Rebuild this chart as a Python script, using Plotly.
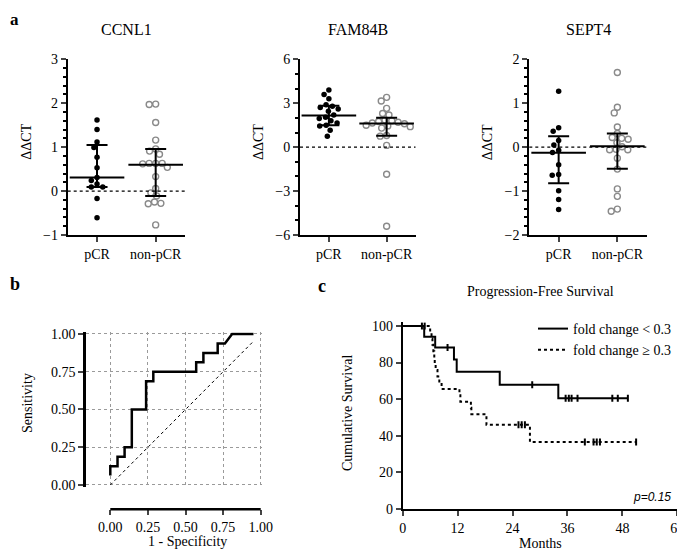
import numpy as np
import plotly.graph_objects as go

# page is 685x551; the html body keeps an 8px margin, so the figure is 8px smaller each way
PAGE_W, PAGE_H, OFF = 685, 551, 8
W, H = PAGE_W - OFF, PAGE_H - OFF

# ---------------- data ----------------
genes = ["CCNL1", "FAM84B", "SEPT4"]
groups = ["pCR", "non-pCR"]

ccnl1_pcr = [1.62, 1.40, 1.12, 0.99, 0.77, 0.53, 0.31, 0.24, 0.16, 0.09, 0.09, -0.17, -0.61]
ccnl1_non = [1.98, 1.97, 1.56, 1.16, 0.96, 0.91, 0.84, 0.63, 0.63, 0.63, 0.62, 0.54, 0.33,
             0.06, -0.04, -0.11, -0.25, -0.28, -0.29, -0.77]
fam84b_pcr = [3.9, 3.6, 3.3, 2.9, 2.8, 2.7, 2.6, 2.45, 2.2, 2.05, 1.95, 1.8, 1.65, 1.5,
              1.45, 1.15, 0.75]
fam84b_non = [3.4, 3.15, 2.65, 2.3, 2.2, 1.85, 1.8, 1.75, 1.7, 1.65, 1.6, 1.5, 1.45, 1.4,
              1.3, 0.8, 0.75, 0.12, -1.85, -5.4]
sept4_pcr = [1.27, 0.44, 0.36, 0.15, 0.05, -0.07, -0.12, -0.40, -0.62, -0.64, -0.99, -1.19, -1.42]
sept4_non = [1.70, 0.91, 0.78, 0.46, 0.31, 0.22, 0.20, 0.18, 0.10, 0.01, -0.05, -0.06, -0.06,
             -0.25, -0.50, -0.95, -1.12, -1.41, -1.46]

# median / interquartile range  [pCR, non-pCR]
ccnl1_med, ccnl1_q1, ccnl1_q3 = [0.31, 0.60], [0.09, -0.11], [1.05, 0.96]
fam84b_med, fam84b_q1, fam84b_q3 = [2.17, 1.62], [1.50, 0.78], [2.82, 2.00]
sept4_med, sept4_q1, sept4_q3 = [-0.13, 0.02], [-0.82, -0.49], [0.25, 0.31]

y_ranges = [[-1, 3], [-6, 6], [-2, 2]]
y_dticks = [1, 3, 1]
y_minor = [0.2, 1, 0.2]

# ROC
roc_fpr = [0, 0, 0.048, 0.048, 0.095, 0.095, 0.143, 0.143, 0.238, 0.238, 0.286, 0.286,
           0.571, 0.571, 0.619, 0.619, 0.714, 0.714, 0.762, 0.810, 0.952]
roc_tpr = [0.0625, 0.125, 0.125, 0.1875, 0.1875, 0.25, 0.25, 0.5, 0.5, 0.6875, 0.6875, 0.75,
           0.75, 0.8125, 0.8125, 0.875, 0.875, 0.9375, 0.9375, 1.0, 1.0]
roc_diag = [0, 0.952]
roc_ticks = [0, 0.25, 0.5, 0.75, 1.0]

# Kaplan-Meier, progression-free survival
low_t = [0, 4.7, 7.1, 11.2, 11.8, 21.2, 34.0, 49.2]
low_s = [100, 94.1, 88.2, 81.6, 75.0, 67.9, 60.4, 60.4]
low_cens_t = [4.2, 9.8, 28.3, 35.6, 36.3, 36.9, 38.2, 45.8, 47.0, 49.2]
low_cens_s = [100, 88.2, 67.9, 60.4, 60.4, 60.4, 60.4, 60.4, 60.4, 60.4]
high_t = [0, 6.0, 6.3, 6.5, 6.7, 6.9, 7.0, 7.2, 7.6, 8.0, 8.5, 12.4, 12.6, 14.9, 15.0,
          18.3, 27.8, 51.0]
high_s = [100, 96.6, 93.1, 89.7, 86.2, 82.8, 79.3, 75.9, 72.4, 69.0, 65.5, 62.1, 58.6,
          55.2, 51.7, 45.9, 36.5, 36.5]
high_cens_t = [4.8, 25.3, 26.0, 26.7, 39.8, 41.7, 42.4, 43.1, 51.0]
high_cens_s = [100, 45.9, 45.9, 45.9, 36.5, 36.5, 36.5, 36.5, 36.5]
km_labels = ["fold change < 0.3", "fold change \u2265 0.3"]


def px_x(p):
    # page pixel -> paper fraction
    return (p - OFF) / W


def px_y(p):
    return 1 - (p - OFF) / H


def swarm(values, ppu, d=6.5, xppu=59.0):
    # simple beeswarm so overlapping dots sit side by side
    vals = np.asarray(values, float)
    ypx = vals * ppu
    xs = np.zeros(len(vals))
    placed = []
    for i in np.argsort(-vals):
        cands = [0.0]
        for j in placed:
            dy = abs(ypx[i] - ypx[j])
            if dy < d:
                dx = np.sqrt(d * d - dy * dy)
                cands += [xs[j] + dx, xs[j] - dx]
        ok = [c for c in cands
              if all((c - xs[j]) ** 2 + (ypx[i] - ypx[j]) ** 2 >= d * d - 1e-6 for j in placed)]
        xs[i] = min(ok, key=lambda c: (abs(c), c))
        placed.append(i)
    return xs / xppu


FONT = "Liberation Serif"
fig = go.Figure()

# ---------------- panel a ----------------
scatter_sets = [
    (ccnl1_pcr, ccnl1_non, ccnl1_med, ccnl1_q1, ccnl1_q3),
    (fam84b_pcr, fam84b_non, fam84b_med, fam84b_q1, fam84b_q3),
    (sept4_pcr, sept4_non, sept4_med, sept4_q1, sept4_q3),
]
x_px = [(67.7, 185.0), (300.0, 415.5), (529.3, 646.7)]
y_px = (59.3, 235.0)

layout_axes = {}
shapes = []
for k, (pcr, non, med, q1, q3) in enumerate(scatter_sets):
    n = "" if k == 0 else str(k + 1)
    xa, ya = "x" + n, "y" + n
    ppu = (y_px[1] - y_px[0]) / (y_ranges[k][1] - y_ranges[k][0])
    xppu = (x_px[k][1] - x_px[k][0]) / 2.0

    fig.add_trace(go.Scatter(
        x=0 + swarm(pcr, ppu, xppu=xppu), y=pcr, mode="markers",
        marker=dict(color="black", size=5.5), xaxis=xa, yaxis=ya, showlegend=False))
    fig.add_trace(go.Scatter(
        x=1 + swarm(non, ppu, xppu=xppu), y=non, mode="markers",
        marker=dict(symbol="circle-open", color="#8a8a8a", size=6, line=dict(width=1.4)),
        xaxis=xa, yaxis=ya, showlegend=False))
    med_a = np.array(med)
    fig.add_trace(go.Scatter(
        x=[0, 1], y=med, mode="markers",
        marker=dict(symbol="line-ew", size=39, line=dict(width=2, color="black")),
        error_y=dict(type="data", symmetric=False, array=np.array(q3) - med_a,
                     arrayminus=med_a - np.array(q1), width=10.5, thickness=2, color="black"),
        xaxis=xa, yaxis=ya, showlegend=False))

    layout_axes["xaxis" + n] = dict(
        domain=[px_x(x_px[k][0]), px_x(x_px[k][1])], range=[-0.5, 1.5], anchor=ya,
        tickvals=[0, 1], ticktext=groups, ticks="outside", ticklen=5, tickwidth=2,
        showline=True, linewidth=2, linecolor="black", showgrid=False, zeroline=False,
        tickfont=dict(size=14))
    layout_axes["yaxis" + n] = dict(
        domain=[px_y(y_px[1]), px_y(y_px[0])], range=y_ranges[k], anchor=xa,
        dtick=y_dticks[k], ticks="outside", ticklen=5, tickwidth=2,
        minor=dict(dtick=y_minor[k], ticks="outside", ticklen=3, tickwidth=1.5, tickcolor="black"),
        showline=True, linewidth=2, linecolor="black", showgrid=False, zeroline=False,
        tickfont=dict(size=14))
    shapes.append(dict(type="line", xref=xa + " domain", yref=ya, x0=0, x1=1, y0=0, y1=0,
                       line=dict(color="black", width=1.2, dash="dot")))

# ---------------- panel b : ROC ----------------
roc_x0, roc_ppx = 110.3, 150.4
roc_y0, roc_ppy = 485.0, 151.0
fig.add_trace(go.Scatter(x=roc_diag, y=roc_diag, mode="lines",
                         line=dict(color="black", width=1, dash="dot"),
                         xaxis="x4", yaxis="y4", showlegend=False))
fig.add_trace(go.Scatter(x=roc_fpr, y=roc_tpr, mode="lines",
                         line=dict(color="black", width=2.5),
                         xaxis="x4", yaxis="y4", showlegend=False))
grid = dict(showgrid=True, gridcolor="#9a9a9a", gridwidth=1, griddash="dot")
layout_axes["xaxis4"] = dict(
    domain=[px_x(86), px_x(262)],
    range=[-(roc_x0 - 86) / roc_ppx, (262 - roc_x0) / roc_ppx],
    anchor="free", position=px_y(509.3), tickvals=roc_ticks, tickformat=".2f",
    ticks="outside", ticklen=5, tickwidth=2, showline=False, zeroline=False,
    tickfont=dict(size=14), **grid)
layout_axes["yaxis4"] = dict(
    domain=[px_y(roc_y0 + 0.01 * roc_ppy), px_y(roc_y0 - 1.012 * roc_ppy)],
    range=[-0.01, 1.012], anchor="x4", tickvals=roc_ticks, tickformat=".2f",
    ticks="outside", ticklen=5, tickwidth=2, showline=True, linewidth=2.5, linecolor="black",
    zeroline=False, tickfont=dict(size=14), **grid)
shapes.append(dict(type="line", xref="x4", yref="paper", x0=0, x1=1,
                   y0=px_y(509.3), y1=px_y(509.3), line=dict(color="black", width=2.5)))

# ---------------- panel c : Kaplan-Meier ----------------
for t, s, ct, cs, dash, name in [(low_t, low_s, low_cens_t, low_cens_s, "solid", km_labels[0]),
                                 (high_t, high_s, high_cens_t, high_cens_s, "dot", km_labels[1])]:
    fig.add_trace(go.Scatter(x=t, y=s, mode="lines", line_shape="hv", name=name,
                             line=dict(color="black", width=2, dash=dash),
                             xaxis="x5", yaxis="y5"))
    fig.add_trace(go.Scatter(x=ct, y=cs, mode="markers", showlegend=False,
                             marker=dict(symbol="line-ns", size=5, line=dict(width=2, color="black")),
                             xaxis="x5", yaxis="y5"))
km_ppy = (508.7 - 326.0) / 100
layout_axes["xaxis5"] = dict(
    domain=[px_x(402.7), px_x(677.3)], range=[0, 60], anchor="y5", dtick=12,
    ticks="outside", ticklen=5, tickwidth=2, showline=True, linewidth=2, linecolor="black",
    showgrid=False, zeroline=False, tickfont=dict(size=14), ticklabeloverflow="allow")
layout_axes["yaxis5"] = dict(
    domain=[px_y(508.7), px_y(508.7 - 102 * km_ppy)], range=[0, 102], anchor="x5",
    tickvals=[0, 20, 40, 60, 80, 100],
    ticks="outside", ticklen=5, tickwidth=2, showline=True, linewidth=2, linecolor="black",
    showgrid=False, zeroline=False, tickfont=dict(size=14))


# ---------------- text ----------------
def note(text, x, y, size=14, angle=0, bold=False, family=FONT, xanchor="center", yanchor="middle"):
    if bold:
        text = "<b>" + text + "</b>"
    return dict(text=text, x=px_x(x), y=px_y(y), xref="paper", yref="paper",
                showarrow=False, textangle=angle, xanchor=xanchor, yanchor=yanchor,
                font=dict(size=size, family=family, color="black"))


annotations = [
    note("a", 8, 8, size=17, bold=True, xanchor="left", yanchor="top"),
    note("b", 8, 284, size=18, bold=True, xanchor="left"),
    note("c", 316, 286, size=18, bold=True, xanchor="left"),
    note("Progression-Free Survival", 540, 291),
    note("Sensitivity", 27, 403, angle=-90),
    note("1 - Specificity", 187, 541),
    note("Cumulative Survival", 347, 413, angle=-90),
    note("Months", 540, 543),
    note("<i>p=0.15</i>", 673, 497, size=12, family="Liberation Sans", xanchor="right"),
]
for k, g in enumerate(genes):
    cx = (x_px[k][0] + x_px[k][1]) / 2
    annotations.append(note(g, cx, 29, size=16))
    annotations.append(note("\u0394\u0394CT", x_px[k][0] - 42, 142, angle=-90))

fig.update_layout(
    width=W, height=H, margin=dict(l=0, r=0, t=0, b=0),
    template="none", plot_bgcolor="white", paper_bgcolor="white",
    font=dict(family=FONT, size=14, color="black"),
    shapes=shapes, annotations=annotations,
    legend=dict(x=px_x(533), y=px_y(313), xanchor="left", yanchor="top",
                bgcolor="rgba(0,0,0,0)", font=dict(size=14), itemwidth=30),
    **layout_axes,
)

fig.write_html("out.html")
